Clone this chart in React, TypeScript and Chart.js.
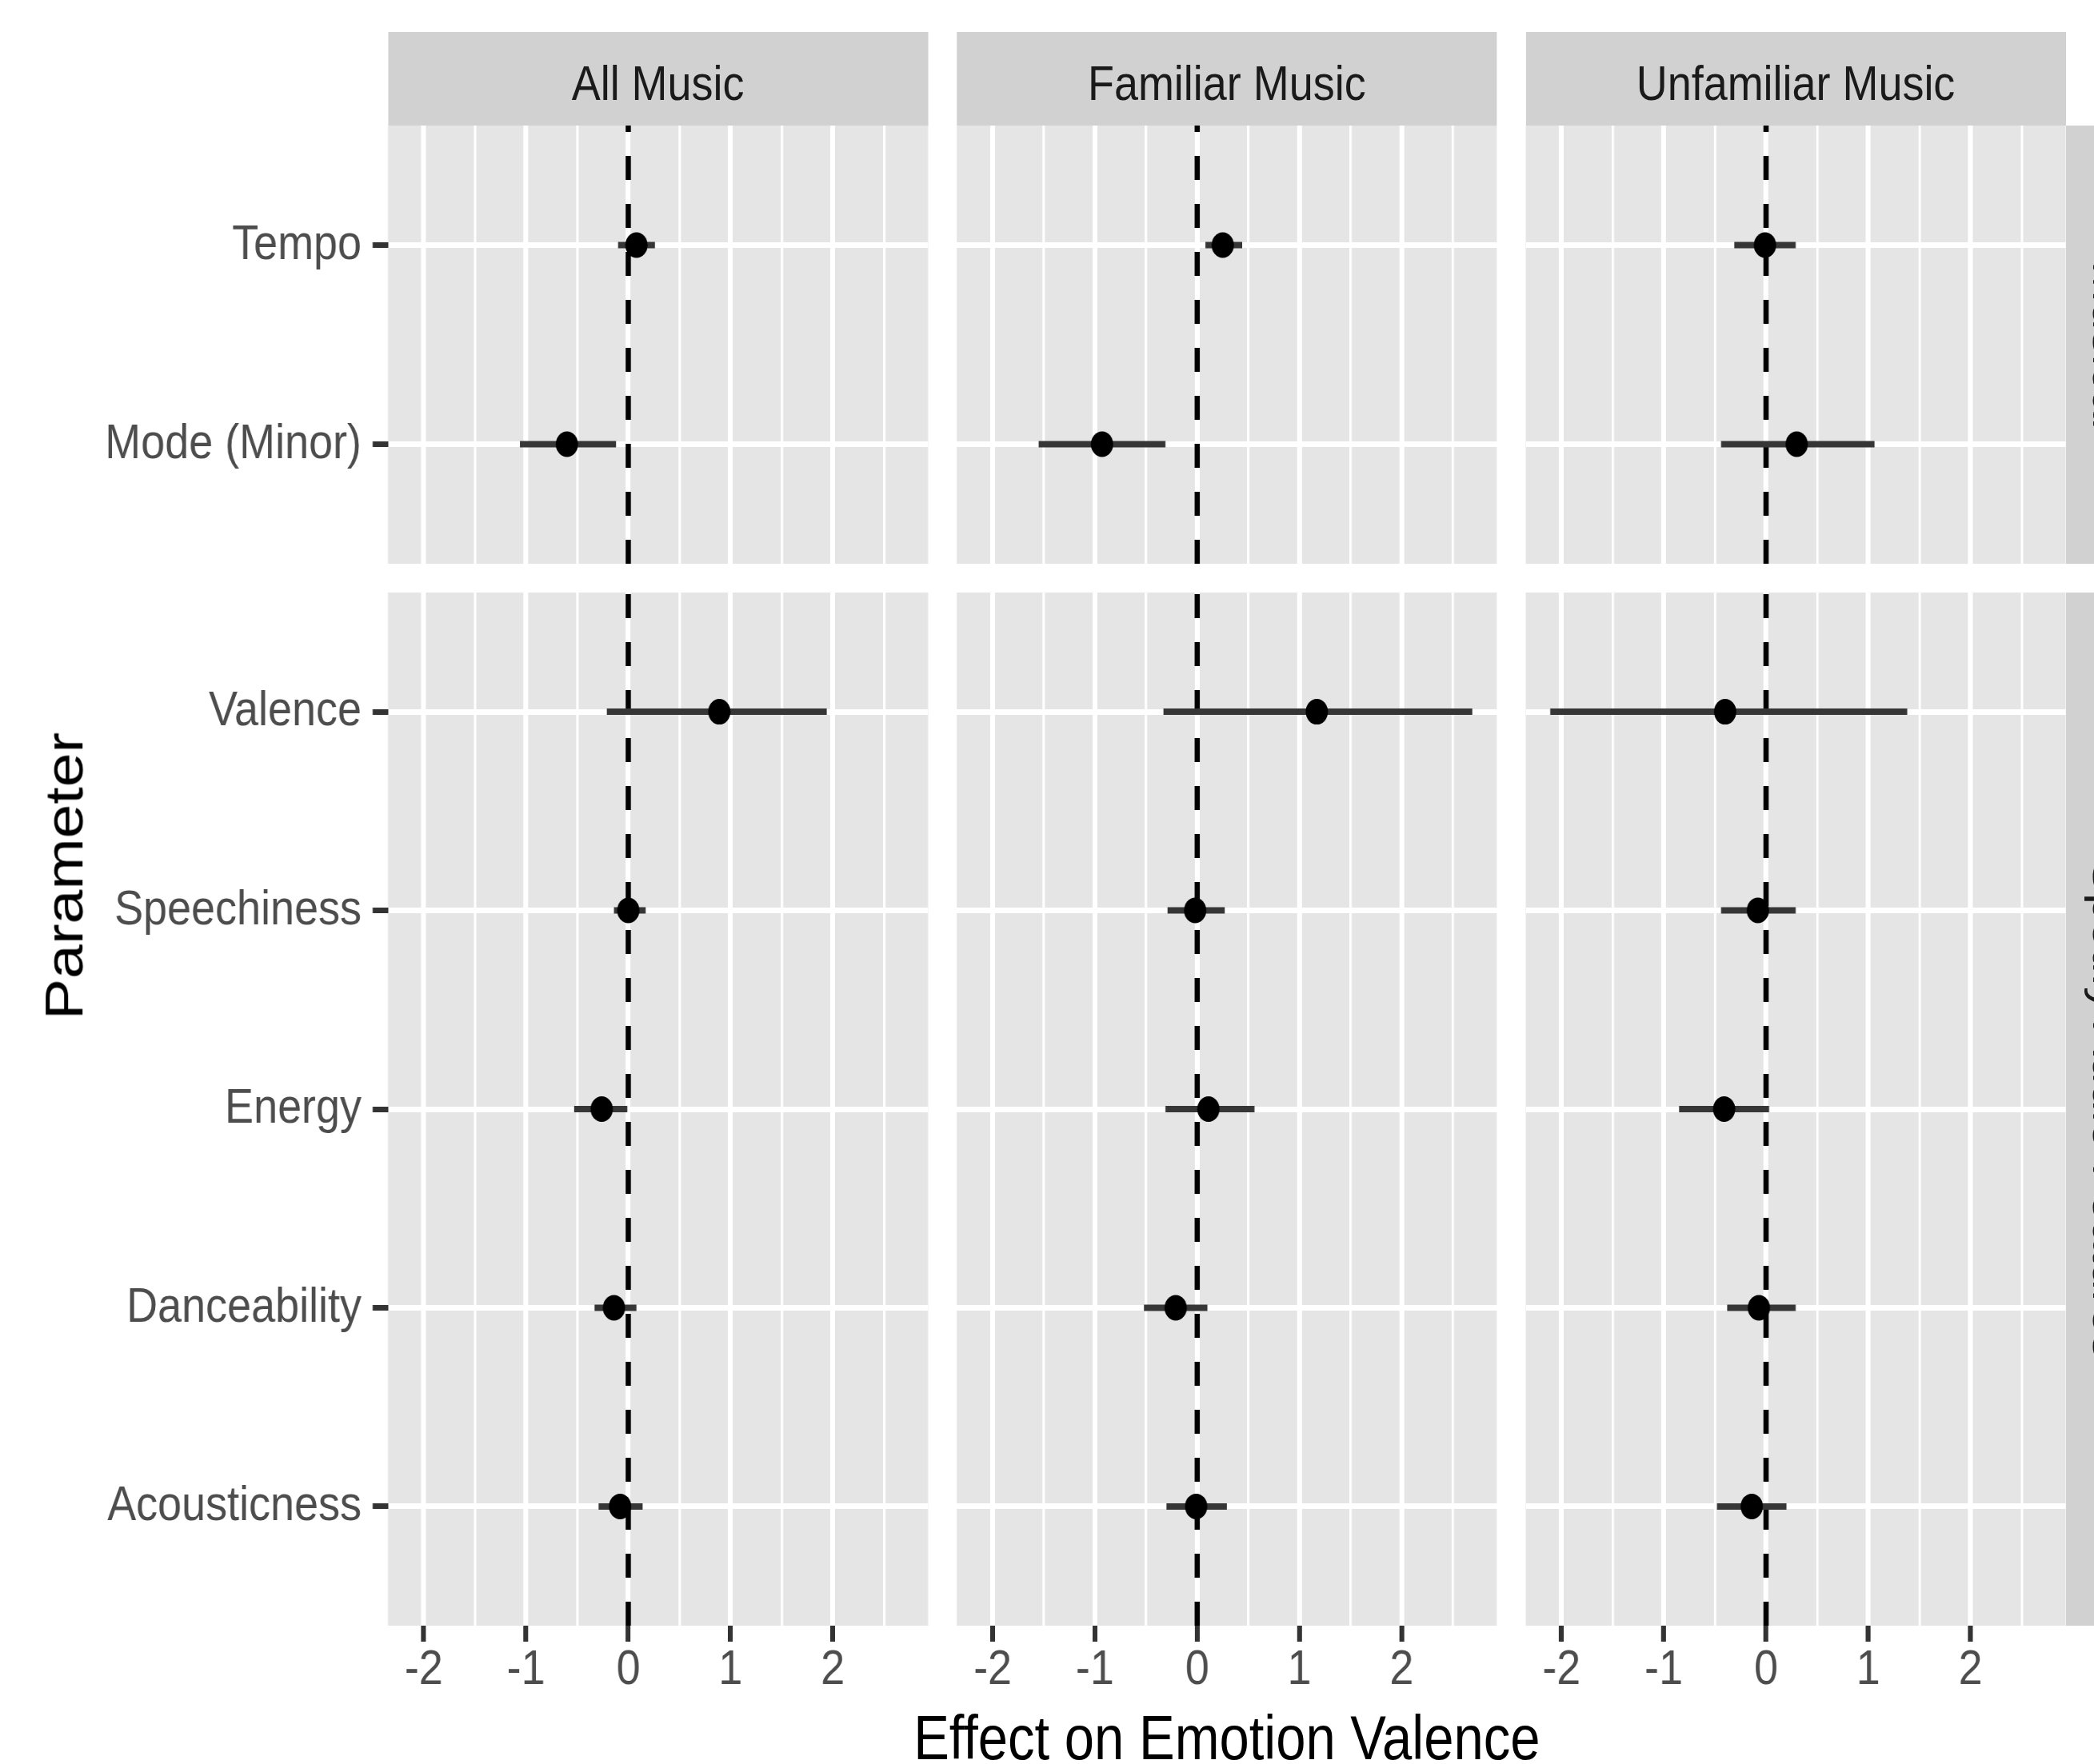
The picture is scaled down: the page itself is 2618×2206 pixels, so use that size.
import React, { useEffect, useRef } from "react";
import { Chart, registerables } from "chart.js";

Chart.register(...registerables);

// ---------------- data ----------------
const facetLabels = ["All Music", "Familiar Music", "Unfamiliar Music"];
const groupLabels = ["Musical", "Spotify Audio Features"];
const topParameters = ["Tempo", "Mode (Minor)"];
const bottomParameters = ["Valence", "Speechiness", "Energy", "Danceability", "Acousticness"];

// order: Tempo, Mode (Minor), Valence, Speechiness, Energy, Danceability, Acousticness
const allMusicEstimate = [0.08, -0.6, 0.89, 0.0, -0.26, -0.14, -0.08];
const allMusicLower = [-0.1, -1.06, -0.21, -0.14, -0.53, -0.33, -0.29];
const allMusicUpper = [0.26, -0.12, 1.94, 0.17, -0.01, 0.08, 0.14];

const familiarEstimate = [0.25, -0.93, 1.17, -0.02, 0.11, -0.21, -0.01];
const familiarLower = [0.08, -1.55, -0.33, -0.29, -0.31, -0.52, -0.3];
const familiarUpper = [0.44, -0.31, 2.69, 0.27, 0.56, 0.1, 0.29];

const unfamiliarEstimate = [-0.01, 0.3, -0.4, -0.08, -0.41, -0.07, -0.14];
const unfamiliarLower = [-0.31, -0.44, -2.11, -0.44, -0.85, -0.38, -0.48];
const unfamiliarUpper = [0.29, 1.06, 1.38, 0.29, 0.03, 0.29, 0.2];

const xMajorBreaks = [-2, -1, 0, 1, 2];
const xMinorBreaks = [-1.5, -0.5, 0.5, 1.5, 2.5];

const xAxisTitle = "Effect on Emotion Valence";
const yAxisTitle = "Parameter";

const estimates = [allMusicEstimate, familiarEstimate, unfamiliarEstimate];
const lowers = [allMusicLower, familiarLower, unfamiliarLower];
const uppers = [allMusicUpper, familiarUpper, unfamiliarUpper];

// x limits: data range expanded by 5% on each side (ggplot default)
const allBounds = [...lowers.flat(), ...uppers.flat()];
const dataMin = Math.min(...allBounds);
const dataMax = Math.max(...allBounds);
const dataSpan = dataMax - dataMin;
const X_MIN = dataMin - 0.05 * dataSpan;
const X_MAX = dataMax + 0.05 * dataSpan;

// ---------------- layout ----------------
const SQUEEZE = 0.87; // the reference is horizontally compressed
const PAGE_W = 2618;
const PAGE_H = 2206;
const INNER_W = PAGE_W / SQUEEZE;
const PANEL_W = 776;
const PANEL_PITCH = 817.5;
const PANEL_LEFT0 = 557.5;
const STRIP_TOP = 40;
const STRIP_H = 117;
const ROW_TOP = [157, 741];
const ROW_BOTTOM = [705, 2033];

const FONT_FAMILY = '"Liberation Sans", Arial, Helvetica, sans-serif';
const STRIP_BG = "#D1D1D1";
const PANEL_BG = "#E5E5E5";

const isMajor = (v: number) => xMajorBreaks.some((b) => Math.abs(b - v) < 1e-9);

const panelBackground = {
  id: "panelBackground",
  beforeDraw(chart: any) {
    const { ctx, chartArea } = chart;
    ctx.save();
    ctx.fillStyle = PANEL_BG;
    ctx.fillRect(chartArea.left, chartArea.top, chartArea.right - chartArea.left, chartArea.bottom - chartArea.top);
    ctx.restore();
  },
};

const zeroPadding = (s: any) => {
  s.paddingTop = 0;
  s.paddingBottom = 0;
  s.paddingLeft = 0;
  s.paddingRight = 0;
};

function FacetPanel({ row, col }: { row: number; col: number }) {
  const ref = useRef<HTMLCanvasElement>(null);
  const panelLeft = PANEL_LEFT0 + col * PANEL_PITCH;
  const canvasLeft = col === 0 ? 0 : Math.floor(panelLeft);
  const canvasRight = Math.ceil(panelLeft + PANEL_W);
  const canvasTop = ROW_TOP[row];
  const canvasBottom = row === 0 ? ROW_BOTTOM[0] : PAGE_H;
  const w = canvasRight - canvasLeft;
  const h = canvasBottom - canvasTop;
  const axisWidth = panelLeft - canvasLeft;
  const extraRight = canvasRight - (panelLeft + PANEL_W);

  useEffect(() => {
    if (!ref.current) return;
    const labels = row === 0 ? topParameters : bottomParameters;
    const offset = row === 0 ? 0 : topParameters.length;
    const n = labels.length;
    const yMin = -0.6;
    const yMax = n - 1 + 0.6;
    const est = estimates[col].slice(offset, offset + n);
    const lo = lowers[col].slice(offset, offset + n);
    const hi = uppers[col].slice(offset, offset + n);

    const datasets: any[] = [];
    datasets.push({
      data: est.map((v, i) => ({ x: v, y: i })),
      pointRadius: 16,
      pointBackgroundColor: "#000000",
      pointBorderWidth: 0,
      showLine: false,
      order: 0,
    });
    lo.forEach((l, i) => {
      datasets.push({
        data: [
          { x: l, y: i },
          { x: hi[i], y: i },
        ],
        showLine: true,
        borderColor: "#363636",
        borderWidth: 8,
        borderCapStyle: "butt",
        pointRadius: 0,
        order: 1,
      });
    });
    datasets.push({
      data: [
        { x: 0, y: yMax },
        { x: 0, y: yMin },
      ],
      showLine: true,
      borderColor: "#000000",
      borderWidth: 7.5,
      borderDash: [30, 30],
      borderCapStyle: "butt",
      pointRadius: 0,
      order: 2,
    });

    const tickFont = { family: FONT_FAMILY, size: 62, lineHeight: 1 };

    const chart = new Chart(ref.current, {
      type: "scatter",
      data: { datasets },
      plugins: [panelBackground],
      options: {
        animation: false,
        responsive: false,
        devicePixelRatio: 1,
        events: [],
        layout: { padding: { left: 0, right: extraRight, top: 0, bottom: 0 }, autoPadding: false },
        plugins: { legend: { display: false }, tooltip: { enabled: false }, title: { display: false } },
        scales: {
          x: {
            type: "linear",
            min: X_MIN,
            max: X_MAX,
            bounds: "data",
            afterBuildTicks: (s: any) => {
              s.ticks = [...xMajorBreaks, ...xMinorBreaks].sort((a, b) => a - b).map((v) => ({ value: v }));
            },
            afterFit: (s: any) => {
              s.height = row === 1 ? PAGE_H - ROW_BOTTOM[1] : 0;
              zeroPadding(s);
            },
            ticks: {
              display: row === 1,
              autoSkip: false,
              maxRotation: 0,
              minRotation: 0,
              padding: 5,
              font: tickFont,
              color: "#4D4D4D",
              callback: (v: any) => (isMajor(Number(v)) ? String(Math.round(Number(v))) : ""),
            },
            grid: {
              color: "#FFFFFF",
              lineWidth: (c: any) => (c.tick && isMajor(c.tick.value) ? 7 : 3.5),
              drawTicks: row === 1,
              tickLength: 20,
              tickWidth: 7,
              tickColor: (c: any) => (c.tick && isMajor(c.tick.value) ? "#333333" : "rgba(0,0,0,0)"),
            },
            border: { display: false },
          },
          y: {
            type: "linear",
            reverse: true,
            min: yMin,
            max: yMax,
            bounds: "data",
            afterBuildTicks: (s: any) => {
              s.ticks = labels.map((_, i) => ({ value: i }));
            },
            afterFit: (s: any) => {
              s.width = axisWidth;
              zeroPadding(s);
            },
            ticks: {
              display: col === 0,
              autoSkip: false,
              padding: 16,
              font: tickFont,
              color: "#4D4D4D",
              callback: (v: any) => labels[Math.round(Number(v))] ?? "",
            },
            grid: {
              color: "#FFFFFF",
              lineWidth: 7,
              drawTicks: col === 0,
              tickLength: 22,
              tickWidth: 7,
              tickColor: "#333333",
            },
            border: { display: false },
          },
        },
      } as any,
    });
    return () => chart.destroy();
  }, []);

  return (
    <canvas
      ref={ref}
      width={w}
      height={h}
      style={{ position: "absolute", left: canvasLeft, top: canvasTop, width: w, height: h, display: "block" }}
    />
  );
}

export default function App() {
  const rightStripLeft = PANEL_LEFT0 + 2 * PANEL_PITCH + PANEL_W;
  const panelsCenterX = (PANEL_LEFT0 + rightStripLeft) / 2;
  const panelsCenterY = (ROW_TOP[0] + ROW_BOTTOM[1]) / 2;
  return (
    <div
      style={{
        position: "fixed",
        left: 0,
        top: 0,
        width: PAGE_W,
        height: PAGE_H,
        overflow: "hidden",
        background: "#FFFFFF",
      }}
    >
      <div
        style={{
          position: "absolute",
          left: 0,
          top: 0,
          width: INNER_W,
          height: PAGE_H,
          transform: `scaleX(${SQUEEZE})`,
          transformOrigin: "0 0",
          fontFamily: FONT_FAMILY,
        }}
      >
        {facetLabels.map((label, c) => (
          <div
            key={"strip" + c}
            style={{
              position: "absolute",
              left: PANEL_LEFT0 + c * PANEL_PITCH,
              top: STRIP_TOP,
              width: PANEL_W,
              height: STRIP_H,
              background: STRIP_BG,
              color: "#1A1A1A",
              fontSize: 62,
              lineHeight: STRIP_H + "px",
              textAlign: "center",
              boxSizing: "border-box",
              paddingTop: 5,
              overflow: "hidden",
              whiteSpace: "nowrap",
            }}
          >
            {label}
          </div>
        ))}
        {groupLabels.map((label, r) => {
          const hgt = ROW_BOTTOM[r] - ROW_TOP[r];
          return (
            <div
              key={"rstrip" + r}
              style={{
                position: "absolute",
                left: rightStripLeft,
                top: ROW_TOP[r],
                width: STRIP_H,
                height: hgt,
                background: STRIP_BG,
                overflow: "hidden",
              }}
            >
              <div
                style={{
                  position: "absolute",
                  left: (STRIP_H - hgt) / 2 + 9,
                  top: (hgt - STRIP_H) / 2,
                  width: hgt,
                  height: STRIP_H,
                  lineHeight: STRIP_H + "px",
                  boxSizing: "border-box",
                  paddingTop: 6,
                  textAlign: "center",
                  fontSize: 62,
                  color: "#1A1A1A",
                  whiteSpace: "nowrap",
                  transform: "rotate(90deg)",
                }}
              >
                {label}
              </div>
            </div>
          );
        })}
        {[0, 1].map((r) => [0, 1, 2].map((c) => <FacetPanel key={r + "-" + c} row={r} col={c} />))}
        <div
          style={{
            position: "absolute",
            left: panelsCenterX - 800,
            top: 2135,
            width: 1600,
            height: 77,
            lineHeight: "77px",
            fontSize: 77,
            color: "#000000",
            textAlign: "center",
            whiteSpace: "nowrap",
          }}
        >
          {xAxisTitle}
        </div>
        <div
          style={{
            position: "absolute",
            left: 92 - 400,
            top: panelsCenterY - 38.5,
            width: 800,
            height: 77,
            lineHeight: "77px",
            fontSize: 77,
            color: "#000000",
            textAlign: "center",
            whiteSpace: "nowrap",
            transform: "rotate(-90deg)",
          }}
        >
          {yAxisTitle}
        </div>
      </div>
    </div>
  );
}
